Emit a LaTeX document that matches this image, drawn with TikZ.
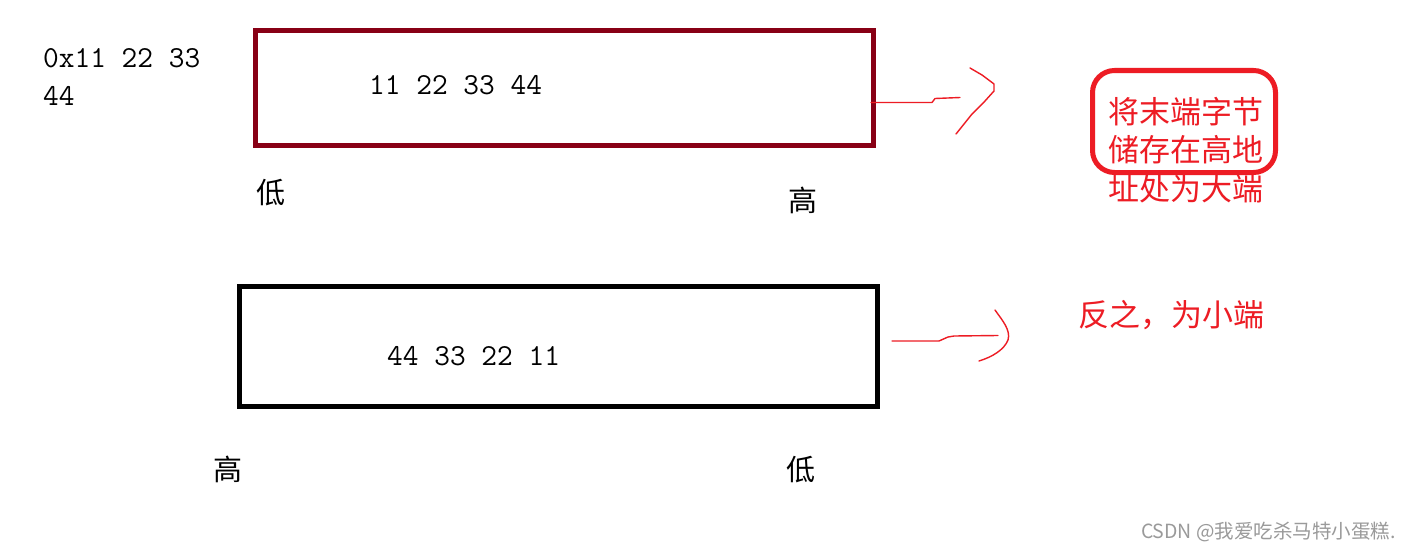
\documentclass[tikz,border=0pt]{standalone}
\usepackage{fontspec}
\newfontfamily\cjk{Noto Sans CJK SC}
\definecolor{paintdarkred}{HTML}{880015}
\definecolor{paintred}{HTML}{ED1C24}
\definecolor{wmgray}{HTML}{9A9A9A}
\begin{document}
\begin{tikzpicture}[x=1pt,y=-1pt,
  memstyle/.style={draw,line width=5pt,inner sep=0pt},
  numtext/.style={inner sep=0pt,font=\ttfamily\fontsize{30.5}{38}\selectfont},
  cjktext/.style={inner sep=0pt,font=\cjk\fontsize{29}{29}\selectfont},
  redtext/.style={inner sep=0pt,text=paintred,font=\cjk\fontsize{31}{38.5}\selectfont},
  handline/.style={draw=paintred,line width=1.4pt,line cap=round,line join=round}]
\useasboundingbox (0,0) rectangle (1410,551);
\fill[white] (0,0) rectangle (1410,551);

% boxes
\node (topbox) [memstyle,draw=paintdarkred,minimum width=618pt,minimum height=115pt] at (564.5,88) {};
\node (botbox) [memstyle,draw=black,minimum width=638pt,minimum height=120pt] at (558.5,346.5) {};
\node (bigend) [draw=paintred,line width=5pt,rounded corners=22pt,minimum width=183pt,minimum height=102pt,inner sep=0pt] at (1184,121.5) {};

% texts
\node (hex1) [numtext,anchor=base west] at (43,67) {0x11 22 33};
\node (hex2) [numtext,anchor=base west] at (43,105) {44};
\node (toptxt) [numtext,anchor=base west] at (369,94) {11 22 33 44};
\node (bottxt) [numtext,anchor=base west] at (387,365) {44 33 22 11};

\node (low1) [cjktext] at (271,193) {低};
\node (high1) [cjktext] at (803,200) {高};
\node (high2) [cjktext] at (228,469) {高};
\node (low2) [cjktext] at (801,470) {低};

\node (big1) [redtext] at (1185.5,112) {将末端字节};
\node (big2) [redtext] at (1185.5,150) {储存在高地};
\node (big3) [redtext] at (1185.5,189) {址处为大端};
\node (small) [redtext] at (1171,315) {反之，为小端};

\node (wm) [inner sep=0pt,anchor=east,text=wmgray,font=\cjk\fontsize{19.5}{19.5}\selectfont] at (1396,532) {CSDN @我爱吃杀马特小蛋糕.};

% hand-drawn arrow 1
\coordinate (a1s) at (871,102.5);
\coordinate (a1e) at (960,97.5);
\draw[handline] (a1s) -- (932,102.5) -- (935,98.5) -- (a1e);
\draw[handline] (970,68) -- (982,75) -- (994,84) -- (994,91) -- (985,101) -- (972,114) -- (956,134);

% hand-drawn arrow 2
\coordinate (a2s) at (892,341);
\coordinate (a2e) at (998,335.5);
\draw[handline] (a2s) -- (939,341) -- (948,337) -- (954,336) -- (a2e);
\draw[handline] (995,310) .. controls (1002,320) and (1011,330) .. (1008,340) .. controls (1004,350) and (992,357) .. (979,361);
\end{tikzpicture}
\end{document}
